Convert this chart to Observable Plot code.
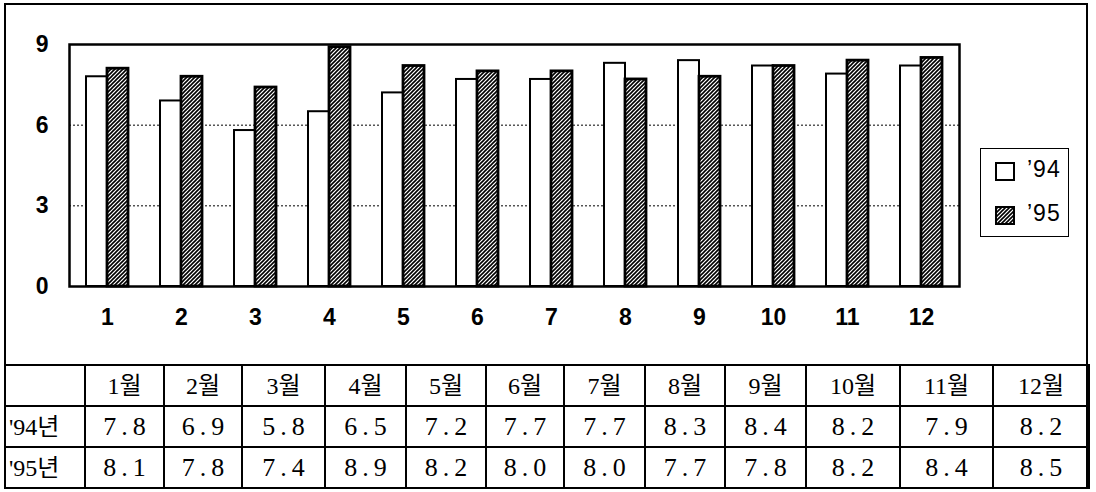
<!DOCTYPE html>
<html>
<head>
<meta charset="utf-8">
<script src="https://cdn.jsdelivr.net/npm/d3@7"></script>
<script src="https://cdn.jsdelivr.net/npm/@observablehq/plot@0.6"></script>
<style>
  html, body { margin: 0; padding: 0; background: #fff; }
  body { width: 1096px; height: 492px; position: relative; overflow: hidden; }
  #chart { position: absolute; left: 0; top: 0; }
  #frame { position: absolute; left: 4px; top: 3px; width: 1084px; height: 485px;
           border: 2px solid #000; box-sizing: border-box; pointer-events: none; }
  #legend { position: absolute; left: 980px; top: 148px; width: 89px; height: 89px;
            border: 1.5px solid #000; box-sizing: border-box; background: #fff;
            font-family: "Liberation Sans", Arial, sans-serif; font-size: 23px; }
  .item { position: absolute; left: 14px; height: 20px; }
  .swatch { position: absolute; left: 0; top: 0; width: 20px; height: 19px;
            border: 2px solid #000; box-sizing: border-box; }
  .label { position: absolute; left: 32px; top: -6px; white-space: nowrap; letter-spacing: 1px; }
  #table { position: absolute; left: 4px; top: 364px; width: 1084px; border-collapse: collapse;
           table-layout: fixed; font-family: "Liberation Serif", "Noto Sans CJK KR", serif;
           font-size: 26px; color: #000; }
  #table td { border: 2px solid #000; height: 41px; padding: 0; text-align: center;
              vertical-align: middle; white-space: nowrap; line-height: 1; box-sizing: border-box; }
  #table td.h { font-size: 24px; }
  #table td.v { letter-spacing: 5px; padding-left: 5px; }
  #table td.rowhead { text-align: left; padding-left: 3px; letter-spacing: 0; font-size: 24px; }
</style>
</head>
<body>
<div id="chart"></div>
<div id="legend"></div>
<table id="table"></table>
<div id="frame"></div>
<script>
// ---- data ----
const months = ["1", "2", "3", "4", "5", "6", "7", "8", "9", "10", "11", "12"];
const monthLabels = ["1월", "2월", "3월", "4월", "5월", "6월", "7월", "8월", "9월", "10월", "11월", "12월"];
const values94 = [7.8, 6.9, 5.8, 6.5, 7.2, 7.7, 7.7, 8.3, 8.4, 8.2, 7.9, 8.2];
const values95 = [8.1, 7.8, 7.4, 8.9, 8.2, 8.0, 8.0, 7.7, 7.8, 8.2, 8.4, 8.5];
const yTicks = [0, 3, 6, 9];
const gridValues = [3, 6];
const seriesLabels = ["’94", "’95"];
const rowLabels = ["'94년", "'95년"];

const rows94 = months.map((m, i) => ({month: m, value: values94[i]}));
const rows95 = months.map((m, i) => ({month: m, value: values95[i]}));

const chart = Plot.plot({
  width: 1096,
  height: 365,
  marginLeft: 69,
  marginRight: 137,
  marginTop: 44,
  marginBottom: 79,
  style: {
    fontFamily: "'Liberation Sans Narrow', 'Liberation Sans', Arial, sans-serif",
    fontSize: "23px",
    fontWeight: "bold",
    color: "#000",
    background: "transparent"
  },
  x: {domain: months, paddingInner: 0.434, paddingOuter: 0.217, tickSize: 0, tickPadding: 22, label: null},
  y: {domain: [0, 9], ticks: yTicks, tickSize: 0, tickPadding: 21, label: null},
  marks: [
    Plot.ruleY(gridValues, {stroke: "#000", strokeWidth: 1, strokeDasharray: "2,2"}),
    Plot.barY(rows94, {x: "month", y: "value", fill: "white", stroke: "#000", strokeWidth: 2, insetRight: 21}),
    Plot.barY(rows95, {x: "month", y: "value", fill: "black", stroke: "#000", strokeWidth: 2.8, insetLeft: 21}),
    Plot.frame({stroke: "#000", strokeWidth: 2.5})
  ]
});

// hatch pattern
const svg = d3.select(chart);
const defs = svg.insert("defs", ":first-child");
const pat = defs.append("pattern")
  .attr("id", "hatch")
  .attr("patternUnits", "userSpaceOnUse")
  .attr("width", 4).attr("height", 4);
pat.append("rect").attr("width", 4).attr("height", 4).attr("fill", "#fff");
pat.append("path")
  .attr("d", "M-1,1 l2,-2 M0,4 l4,-4 M3,5 l2,-2")
  .attr("stroke", "#000").attr("stroke-width", 1.6);
svg.selectAll("g[aria-label='bar']").filter((d, i) => i === 1)
  .attr("fill", "url(#hatch)")
  .selectAll("rect").attr("fill", "url(#hatch)");

document.getElementById("chart").appendChild(chart);

// legend
const legend = d3.select("#legend");
seriesLabels.forEach((s, i) => {
  const it = legend.append("div").attr("class", "item").style("top", (i === 0 ? 13 : 57) + "px");
  const sw = it.append("div").attr("class", "swatch");
  if (i === 0) sw.style("background", "#fff");
  else sw.append("svg").attr("width", 16).attr("height", 15).style("display", "block")
    .append("rect").attr("width", 16).attr("height", 15).attr("fill", "url(#hatch)");
  it.append("div").attr("class", "label").text(s);
});

// table
const colWidths = [80, 79, 78, 83, 81, 80, 78, 81, 80, 81, 94, 93, 96];
const table = d3.select("#table");
const cg = table.append("colgroup");
colWidths.forEach(w => cg.append("col").style("width", w + "px"));
const head = table.append("tr");
head.append("td");
monthLabels.forEach(l => head.append("td").attr("class", "h").text(l));
[values94, values95].forEach((vals, r) => {
  const tr = table.append("tr");
  tr.append("td").attr("class", "rowhead").text(rowLabels[r]);
  vals.forEach(v => tr.append("td").attr("class", "v").text(v.toFixed(1)));
});

// align outer frame bottom with the table bottom
const tb = document.getElementById("table").getBoundingClientRect();
document.getElementById("frame").style.height = (tb.bottom - 3) + "px";
</script>
</body>
</html>
